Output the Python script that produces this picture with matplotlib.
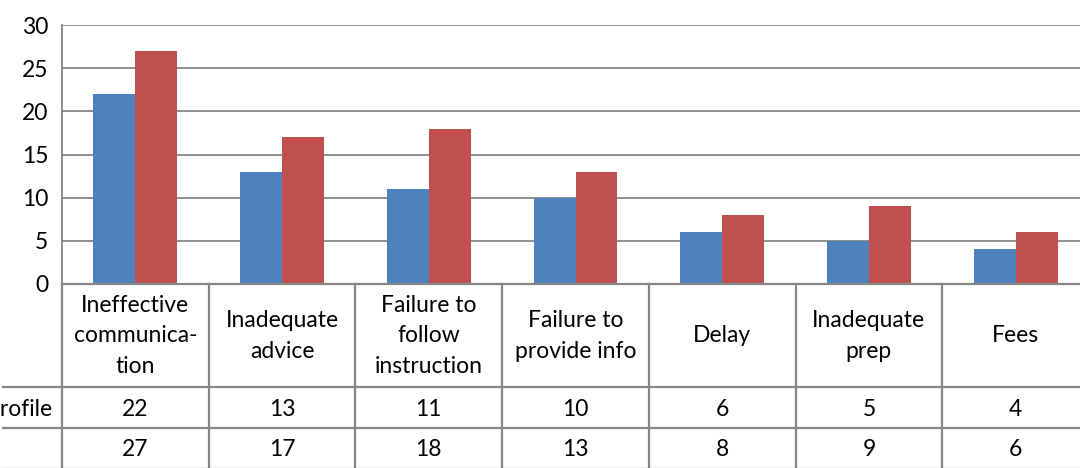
import numpy as np
import matplotlib.pyplot as plt
from matplotlib.transforms import blended_transform_factory

categories = ['Ineffective\ncommunica-\ntion', 'Inadequate\nadvice', 'Failure to\nfollow\ninstruction',
              'Failure to\nprovide info', 'Delay', 'Inadequate\nprep', 'Fees']
profile = [22, 13, 11, 10, 6, 5, 4]
second = [27, 17, 18, 13, 8, 9, 6]
row_labels = ['Profile', '']
yticks = [0, 5, 10, 15, 20, 25, 30]

BLUE = '#4F81BD'
RED = '#C0504D'
GRID = '#868686'
W, H = 1080, 468
FS = 16.5

plt.rcParams['font.family'] = ['Lato', 'DejaVu Sans']
fig = plt.figure(figsize=(W / 100, H / 100), dpi=100)

# plot area in pixel terms (runs past the right edge, like the crop)
left, right, top, bottom = 62, 1089, 25, 284
ax = fig.add_axes([left / W, 1 - bottom / H, (right - left) / W, (bottom - top) / H])

x = np.arange(len(categories))
bw = 1 / 3.5
ax.bar(x - bw / 2, profile, bw, color=BLUE, zorder=3)
ax.bar(x + bw / 2, second, bw, color=RED, zorder=3)

ax.set_xlim(-0.5, len(categories) - 0.5)
ax.set_ylim(0, 30)
ax.set_yticks(yticks)
ax.set_xticks([])
ax.yaxis.grid(True, color=GRID, linewidth=1.3, zorder=0)
ax.tick_params(axis='y', length=0, labelsize=FS, pad=10, colors='black')
for s in ['top', 'right', 'bottom']:
    ax.spines[s].set_visible(False)
ax.spines['left'].set_color(GRID)
ax.spines['left'].set_linewidth(1.3)

# data table below the plot, y in pixel rows
tab_bottom = 520
tax = fig.add_axes([left / W, 1 - tab_bottom / H, (right - left) / W, (tab_bottom - bottom) / H])
tax.set_xlim(-0.5, len(categories) - 0.5)
tax.set_ylim(tab_bottom, bottom)
tax.axis('off')

tax.plot([-0.5, len(categories) - 0.5], [284, 284], color=GRID, lw=1.6, clip_on=False)
for y in [387, 428, 469]:
    tax.plot([-0.9, len(categories) - 0.5], [y, y], color=GRID, lw=1.6, clip_on=False)
for xv in np.arange(len(categories) + 1) - 0.5:
    tax.plot([xv, xv], [284, tab_bottom], color=GRID, lw=1.6, clip_on=False)

for i, cat in enumerate(categories):
    tax.text(i, 336, cat, ha='center', va='center', fontsize=FS, linespacing=1.55)
    tax.text(i, 409, str(profile[i]), ha='center', va='center', fontsize=FS)
    tax.text(i, 450, str(second[i]), ha='center', va='center', fontsize=FS)

trans = blended_transform_factory(fig.transFigure, tax.transData)
tax.text(53 / W, 409, row_labels[0], ha='right', va='center', fontsize=FS, transform=trans)
tax.text(53 / W, 450, row_labels[1], ha='right', va='center', fontsize=FS, transform=trans)

fig.savefig('out.png', dpi=100)
